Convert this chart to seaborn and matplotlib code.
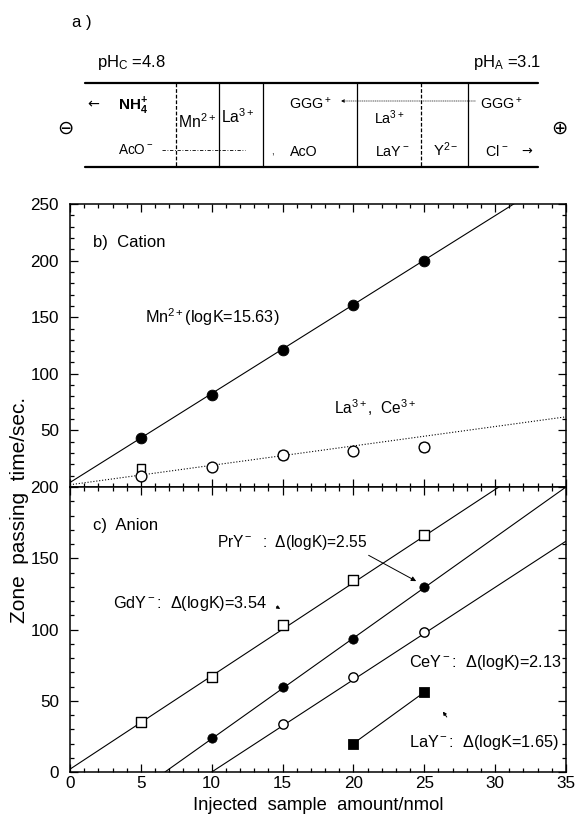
import matplotlib
matplotlib.use("Agg")
import matplotlib.pyplot as plt
import seaborn as sns
from matplotlib.ticker import MultipleLocator

# ------------------------------------------------------------
# data
# ------------------------------------------------------------
# b) cation
cat_x = [5, 10, 15, 20, 25]
mn_y = [43, 81, 121, 161, 200]
la_circ_y = [10, 18, 28, 32, 35]
la_sq_x = [5, 15, 25]
la_sq_y = [17, 28, 35]
mn_fit_x = [0, 35]
mn_fit_y = [4, 279]
la_fit_x = [0, 35]
la_fit_y = [2, 62]

# c) anion
gd_x = [5, 10, 15, 20, 25]
gd_y = [35, 67, 103, 135, 166]
pr_x = [10, 15, 20, 25]
pr_y = [24, 60, 93, 130]
ce_x = [15, 20, 25]
ce_y = [34, 67, 98]
lay_x = [20, 25]
lay_y = [20, 56]
gd_fit_x = [0, 35]
gd_fit_y = [2, 231]
pr_fit_x = [6.7, 35]
pr_fit_y = [0, 200]
ce_fit_x = [10, 35]
ce_fit_y = [0, 162]

x_ticks = [0, 5, 10, 15, 20, 25, 30, 35]
b_yticks = [0, 50, 100, 150, 200, 250]
b_ylabels = ["", "50", "100", "150", "200", "250"]
c_yticks = [0, 50, 100, 150, 200]

sns.set_style("ticks")
plt.rcParams["font.family"] = ["Liberation Sans", "DejaVu Sans"]
plt.rcParams["mathtext.fontset"] = "custom"
plt.rcParams["mathtext.rm"] = "Liberation Sans"
plt.rcParams["mathtext.it"] = "Liberation Sans:italic"
plt.rcParams["mathtext.bf"] = "Liberation Sans:bold"
plt.rcParams["mathtext.sf"] = "Liberation Sans"
plt.rcParams["text.color"] = "black"
plt.rcParams["xtick.color"] = "black"
plt.rcParams["ytick.color"] = "black"
plt.rcParams["axes.edgecolor"] = "black"

TICK_FS = 12.3
ANN_FS = 11.7
SCH_FS = 10.3
fig = plt.figure(figsize=(5.79, 8.14), dpi=100)

# ============================================================
# a) schematic of the zones (pixel-like coords)
# ============================================================
ax_a = fig.add_axes([0, 1 - 190 / 814, 1, 190 / 814])
ax_a.set_xlim(0, 579); ax_a.set_ylim(190, 0); ax_a.axis("off")
ax_a.text(72, 23, "a )", fontsize=12, va="center")
ax_a.text(97, 63, r"pH$_\mathrm{C}$ =4.8", fontsize=12, va="center")
ax_a.text(473, 63, r"pH$_\mathrm{A}$ =3.1", fontsize=12, va="center")
ax_a.plot([85, 538], [83, 83], color="k", lw=1.6)
ax_a.plot([85, 538], [167, 167], color="k", lw=1.6)
for xv, ls in [(176, (0, (3, 1.5))), (219, "-"), (263, "-"), (357, "-"), (421, (0, (3, 1.5))), (468, "-")]:
    ax_a.plot([xv, xv], [83, 167], color="k", lw=0.9, ls=ls)
ax_a.text(65, 128, "⊖", fontsize=14, ha="center", va="center", family="DejaVu Sans")
ax_a.text(559, 128, "⊕", fontsize=14, ha="center", va="center", family="DejaVu Sans")
ax_a.text(93, 104, "←", fontsize=SCH_FS, ha="center", va="center", family="DejaVu Sans")
ax_a.text(118, 106, r"$\mathbf{NH}_\mathbf{4}^{\mathbf{+}}$", fontsize=SCH_FS + 0.7, va="center")
ax_a.text(118, 150, r"AcO$^-$", fontsize=SCH_FS - 0.5, va="center")
ax_a.plot([162, 245], [150, 150], color="k", lw=0.6, ls=(0, (4, 2, 1, 2)))
ax_a.text(272, 152, ",", fontsize=7, ha="center", va="center")
ax_a.text(178, 122, r"Mn$^{2+}$", fontsize=SCH_FS + 1, va="center")
ax_a.text(221, 117, r"La$^{3+}$", fontsize=SCH_FS + 1, va="center")
ax_a.text(289, 104, r"GGG$^+$", fontsize=SCH_FS, va="center")
ax_a.annotate("", xy=(338, 101), xytext=(478, 101),
              arrowprops=dict(arrowstyle="-|>", color="k", lw=0.5, ls=":", mutation_scale=5))
ax_a.text(480, 104, r"GGG$^+$", fontsize=SCH_FS, va="center")
ax_a.text(290, 152, "AcO", fontsize=SCH_FS, va="center")
ax_a.text(374, 118, r"La$^{3+}$", fontsize=SCH_FS, va="center")
ax_a.text(375, 152, r"LaY$^-$", fontsize=SCH_FS, va="center")
ax_a.text(433, 150, r"Y$^{2-}$", fontsize=SCH_FS + 0.5, va="center")
ax_a.text(485, 152, r"Cl$^{\,-}$", fontsize=SCH_FS, va="center")
ax_a.text(527, 151, "→", fontsize=SCH_FS - 1, ha="center", va="center", family="DejaVu Sans")

# ============================================================
# b) cation / c) anion panels
# ============================================================
left, width = 70 / 579, 496 / 579
ax_b = fig.add_axes([left, 1 - 487 / 814, width, 283 / 814])
ax_c = fig.add_axes([left, 1 - 772 / 814, width, 285 / 814])

line_kw = dict(color="k", lw=0.8, legend=False)
MS = 60

# b) cation
sns.lineplot(x=mn_fit_x, y=mn_fit_y, ax=ax_b, **line_kw)
sns.lineplot(x=la_fit_x, y=la_fit_y, ax=ax_b, color="k", lw=0.8, ls=":", legend=False)
sns.scatterplot(x=cat_x, y=mn_y, ax=ax_b, marker="o", s=MS, color="k", edgecolor="k", zorder=3)
sns.scatterplot(x=la_sq_x, y=la_sq_y, ax=ax_b, marker="s", s=MS * 0.55, facecolor="white",
                edgecolor="k", linewidth=1.0, zorder=3)
sns.scatterplot(x=cat_x, y=la_circ_y, ax=ax_b, marker="o", s=MS, facecolor="white",
                edgecolor="k", linewidth=1.0, zorder=4)
ax_b.text(1.6, 216, "b)  Cation", fontsize=12, va="center")
ax_b.text(5.3, 150, r"Mn$^{2+}$(logK=15.63)", fontsize=ANN_FS, va="center")
ax_b.text(18.6, 70, r"La$^{3+}$,  Ce$^{3+}$", fontsize=ANN_FS - 0.5, va="center")

# c) anion
sns.lineplot(x=gd_fit_x, y=gd_fit_y, ax=ax_c, **line_kw)
sns.lineplot(x=pr_fit_x, y=pr_fit_y, ax=ax_c, **line_kw)
sns.lineplot(x=ce_fit_x, y=ce_fit_y, ax=ax_c, **line_kw)
sns.lineplot(x=lay_x, y=lay_y, ax=ax_c, **line_kw)
sns.scatterplot(x=gd_x, y=gd_y, ax=ax_c, marker="s", s=MS * 0.85, facecolor="white",
                edgecolor="k", linewidth=1.0, zorder=3)
sns.scatterplot(x=pr_x, y=pr_y, ax=ax_c, marker="o", s=MS * 0.75, color="k", edgecolor="k", zorder=3)
sns.scatterplot(x=ce_x, y=ce_y, ax=ax_c, marker="o", s=MS * 0.75, facecolor="white",
                edgecolor="k", linewidth=1.0, zorder=3)
sns.scatterplot(x=lay_x, y=lay_y, ax=ax_c, marker="s", s=MS * 0.85, color="k", edgecolor="k", zorder=3)
ax_c.text(1.6, 173, "c)  Anion", fontsize=12, va="center")
ax_c.text(10.4, 161, "PrY$^-$  :  Δ(logK)=2.55", fontsize=ANN_FS - 0.5, va="center")
ax_c.annotate("", xy=(24.6, 133), xytext=(20.9, 153),
              arrowprops=dict(arrowstyle="-|>", color="k", lw=0.7, mutation_scale=7))
ax_c.text(3.0, 118, "GdY$^-$:  Δ(logK)=3.54", fontsize=ANN_FS, va="center")
ax_c.annotate("", xy=(15.0, 113.5), xytext=(14.4, 117),
              arrowprops=dict(arrowstyle="-|>", color="k", lw=0.6, mutation_scale=5))
ax_c.text(23.9, 77, "CeY$^-$:  Δ(logK)=2.13", fontsize=ANN_FS, va="center")
ax_c.text(23.9, 20.5, "LaY$^-$:  Δ(logK=1.65)", fontsize=ANN_FS, va="center")
ax_c.annotate("", xy=(26.2, 44), xytext=(26.7, 37),
              arrowprops=dict(arrowstyle="-|>", color="k", lw=0.7, mutation_scale=5))

for ax in (ax_b, ax_c):
    ax.set_xlim(0, 35)
    ax.set_xticks(x_ticks)
    ax.xaxis.set_minor_locator(MultipleLocator(1))
    ax.yaxis.set_minor_locator(MultipleLocator(10))
    ax.tick_params(which="both", direction="in", top=True, right=True, labelsize=TICK_FS, width=0.9)
    ax.tick_params(which="major", length=6)
    ax.tick_params(which="minor", length=3)
    ax.tick_params(axis="y", which="major", pad=8)
    ax.tick_params(axis="x", which="major", pad=3)
    for sp in ax.spines.values():
        sp.set_linewidth(1.1)
    ax.set_xlabel(""); ax.set_ylabel("")

ax_b.set_ylim(0, 250)
ax_b.set_yticks(b_yticks)
ax_b.set_yticklabels(b_ylabels)
ax_b.tick_params(labelbottom=False)
ax_c.set_ylim(0, 200)
ax_c.set_yticks(c_yticks)

fig.text(20 / 579, 1 - 510 / 814, "Zone  passing  time/sec.", rotation=90,
         fontsize=15, ha="center", va="center")
fig.text(318 / 579, 1 - 805 / 814, "Injected  sample  amount/nmol",
         fontsize=13.2, ha="center", va="center")

fig.savefig("out.png", dpi=100)
